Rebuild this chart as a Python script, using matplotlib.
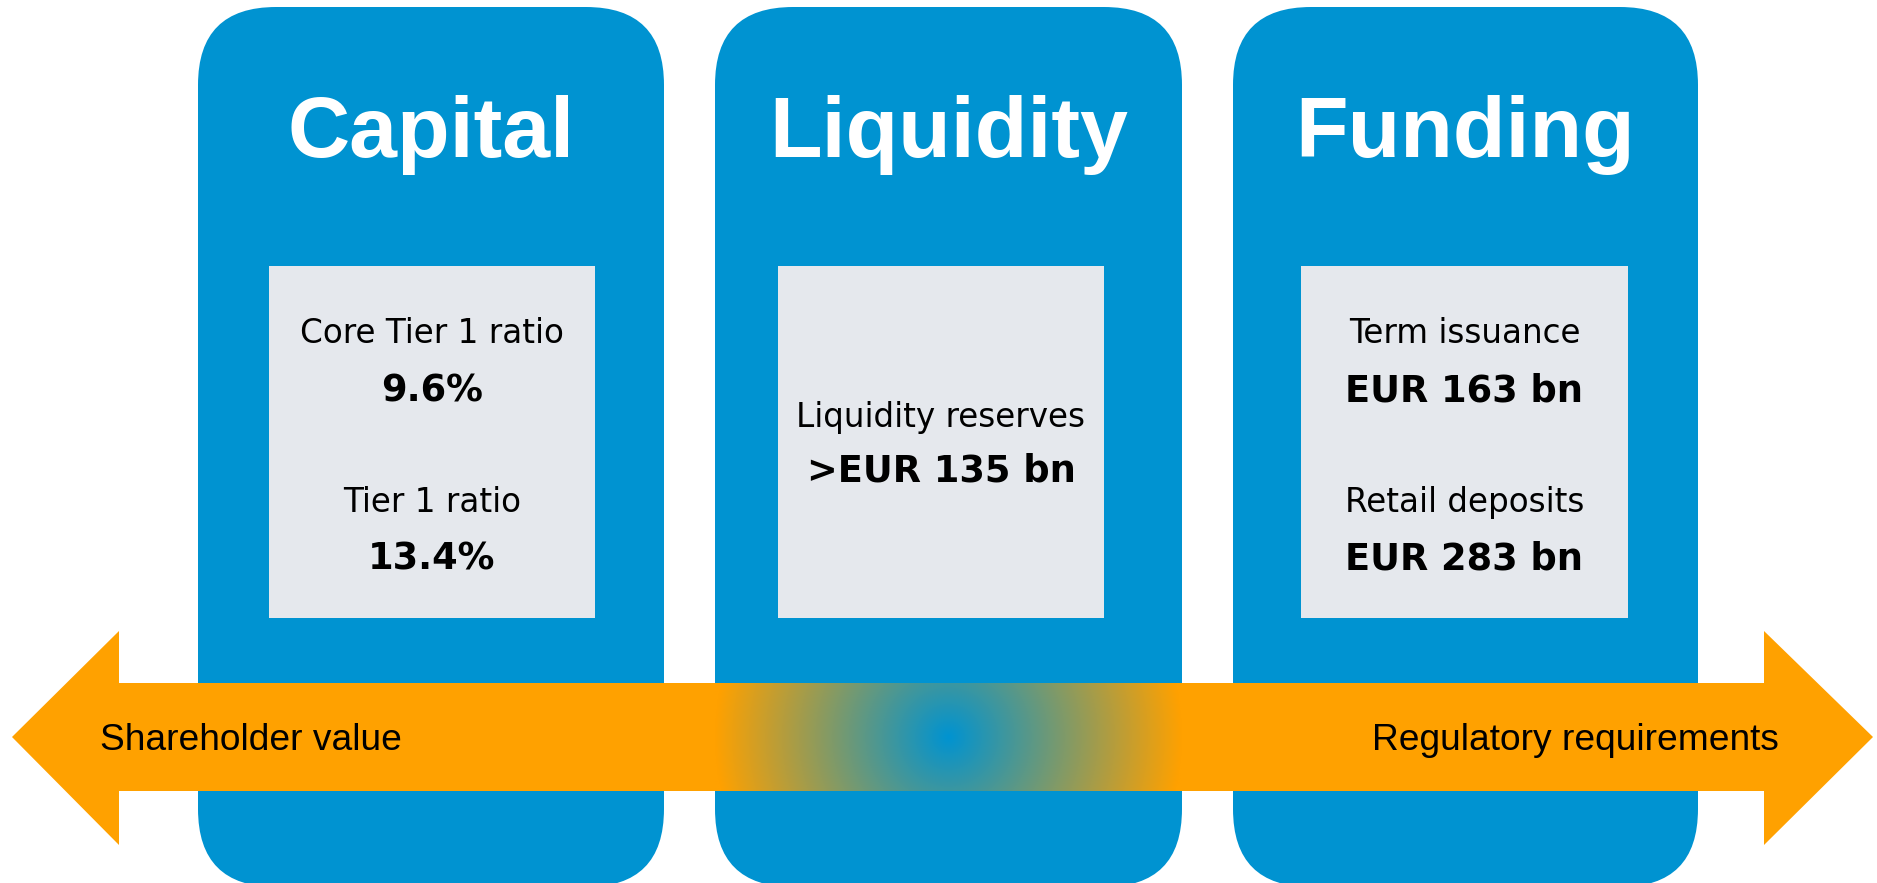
import numpy as np
import matplotlib
matplotlib.use("Agg")
import matplotlib.pyplot as plt
from matplotlib.patches import FancyBboxPatch, Rectangle, Polygon

# ---- content ----
pillars = ["Capital", "Liquidity", "Funding"]
pillar_lines = [
    [("Core Tier 1 ratio", "normal"), ("9.6%", "bold"), ("Tier 1 ratio", "normal"), ("13.4%", "bold")],
    [("Liquidity reserves", "normal"), (">EUR 135 bn", "bold")],
    [("Term issuance", "normal"), ("EUR 163 bn", "bold"), ("Retail deposits", "normal"), ("EUR 283 bn", "bold")],
]
left_label = "Shareholder value"
right_label = "Regulatory requirements"

# ---- layout (pixels) ----
W, H = 1877, 883
BLUE = "#0093D1"
ORANGE = "#FFA100"
GRAY = "#E5E8ED"
box_x = [(198, 664), (715, 1182), (1233, 1698)]
box_top, box_bot, radius = 7, 887, 78
inner_x = [(269, 595), (778, 1104), (1301, 1628)]
inner_top, inner_bot = 266, 618
title_base = 157
line_bases = [[343, 401, 512, 569], [427, 482], [343, 401, 512, 569]]

fig = plt.figure(figsize=(W / 100, H / 100), dpi=100)
ax = fig.add_axes([0, 0, 1, 1])
ax.set_xlim(0, W)
ax.set_ylim(H, 0)
ax.axis("off")
FONT = "Liberation Sans"
INNER_FONT = "DejaVu Sans"

for (x0, x1), (ix0, ix1), title, lines, bases in zip(box_x, inner_x, pillars, pillar_lines, line_bases):
    ax.add_patch(FancyBboxPatch((x0 + radius, box_top + radius), (x1 - x0) - 2 * radius,
                                (box_bot - box_top) - 2 * radius,
                                boxstyle=f"round,pad={radius},rounding_size={radius}",
                                fc=BLUE, ec="none", zorder=1))
    ax.add_patch(Rectangle((ix0, inner_top), ix1 - ix0, inner_bot - inner_top, fc=GRAY, ec="none", zorder=2))
    cx = (x0 + x1) / 2
    ax.text(cx, title_base, title, color="white", fontsize=62, fontweight="bold",
            family=FONT, ha="center", va="baseline", zorder=5)
    icx = (ix0 + ix1) / 2
    for (txt, wt), yb in zip(lines, bases):
        ax.text(icx, yb, txt, color="black", fontsize=23.5 if wt == "normal" else 26.5,
                fontweight=wt, family=INNER_FONT, ha="center", va="baseline", zorder=5)

# double arrow
shaft_top, shaft_bot = 683, 791
head_top, head_bot = 631, 845
ymid = (shaft_top + shaft_bot) / 2
lt, lb, rb, rt = 12, 119, 1764, 1873
arrow = [(lt, ymid), (lb, head_top), (lb, shaft_top), (rb, shaft_top), (rb, head_top), (rt, ymid),
         (rb, head_bot), (rb, shaft_bot), (lb, shaft_bot), (lb, head_bot)]
ax.add_patch(Polygon(arrow, closed=True, fc=ORANGE, ec="none", zorder=3))

# radial gradient over the middle pillar
gx0, gx1 = box_x[1]
gcx = (gx0 + gx1) / 2
R = (gx1 - gx0) / 2
xs = np.linspace(gx0, gx1, 600)
ys = np.linspace(shaft_top, shaft_bot, 150)
XX, YY = np.meshgrid(xs, ys)
t = np.clip(np.sqrt((XX - gcx) ** 2 + (YY - ymid) ** 2) / R, 0, 1)
b = np.array(matplotlib.colors.to_rgb(BLUE))
o = np.array(matplotlib.colors.to_rgb(ORANGE))
img = b[None, None, :] * (1 - t[..., None]) + o[None, None, :] * t[..., None]
ax.imshow(img, extent=(gx0, gx1, shaft_bot, shaft_top), zorder=4, interpolation="bilinear", aspect="auto")
ax.set_xlim(0, W)
ax.set_ylim(H, 0)

ax.text(100, 750, left_label, fontsize=26.7, family=FONT, ha="left", va="baseline", zorder=5)
ax.text(1779, 750, right_label, fontsize=26.7, family=FONT, ha="right", va="baseline", zorder=5)

fig.savefig("out.png", dpi=100, facecolor="white")
